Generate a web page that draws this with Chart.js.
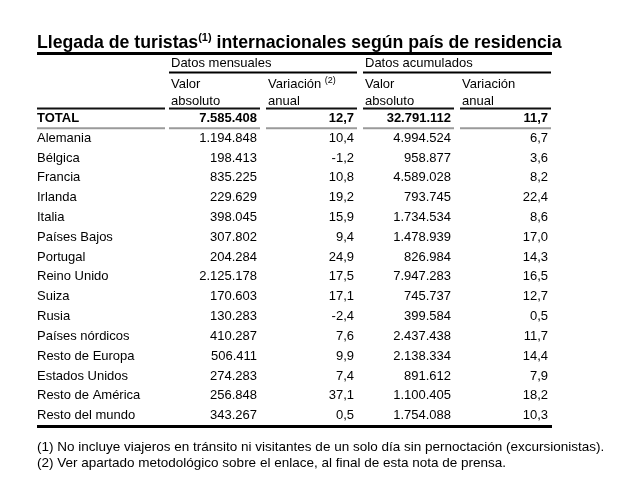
<!DOCTYPE html>
<html>
<head>
<meta charset="utf-8">
<script src="https://cdn.jsdelivr.net/npm/chart.js@4.4.1/dist/chart.umd.min.js"></script>
<style>
  body { margin: 0; background: #fff; font-family: "Liberation Sans", Arial, sans-serif; color: #000; }
  #wrap { position: relative; width: 620px; height: 484px; }
  canvas { position: absolute; left: 0; top: 0; }
  #titulo { position: absolute; left: 37px; top: 33px; font-size: 17.7px; line-height: 18px; font-weight: bold; white-space: nowrap; }
  #titulo sup { font-size: 11px; line-height: 0; vertical-align: 7px; }
  #notas { position: absolute; left: 37px; top: 439px; font-size: 13.5px; line-height: 15.5px; white-space: nowrap; }
</style>
</head>
<body>
<div id="wrap">
  <canvas id="tabla" width="620" height="484"></canvas>
  <div id="titulo">Llegada de turistas<sup>(1)</sup> internacionales según país de residencia</div>
  <div id="notas">
    (1) No incluye viajeros en tránsito ni visitantes de un solo día sin pernoctación (excursionistas).<br>
    (2) Ver apartado metodológico sobre el enlace, al final de esta nota de prensa.
  </div>
</div>
<script>
// Datos
const filas = ['TOTAL', 'Alemania', 'Bélgica', 'Francia', 'Irlanda', 'Italia', 'Países Bajos', 'Portugal',
  'Reino Unido', 'Suiza', 'Rusia', 'Países nórdicos', 'Resto de Europa', 'Estados Unidos',
  'Resto de América', 'Resto del mundo'];
const valorMensual = [7585408, 1194848, 198413, 835225, 229629, 398045, 307802, 204284,
  2125178, 170603, 130283, 410287, 506411, 274283, 256848, 343267];
const variacionMensual = [12.7, 10.4, -1.2, 10.8, 19.2, 15.9, 9.4, 24.9,
  17.5, 17.1, -2.4, 7.6, 9.9, 7.4, 37.1, 0.5];
const valorAcumulado = [32791112, 4994524, 958877, 4589028, 793745, 1734534, 1478939, 826984,
  7947283, 745737, 399584, 2437438, 2138334, 891612, 1100405, 1754088];
const variacionAcumulada = [11.7, 6.7, 3.6, 8.2, 22.4, 8.6, 17.0, 14.3,
  16.5, 12.7, 0.5, 11.7, 14.4, 7.9, 18.2, 10.3];

const columnas = ['valorMensual', 'variacionMensual', 'valorAcumulado', 'variacionAcumulada'];
const cabeceras = [['Valor', 'absoluto'], ['Variación', 'anual'], ['Valor', 'absoluto'], ['Variación', 'anual']];
const grupos = ['Datos mensuales', 'Datos acumulados'];

const FUENTE = '"Liberation Sans", Arial, sans-serif';

// Formatos
function miles(n) {
  return String(n).replace(/\B(?=(\d{3})+(?!\d))/g, '.');
}
function decimal(n) {
  return n.toFixed(1).replace('.', ',');
}

function serie(col, valores, formato) {
  return {
    label: col,
    data: filas.map((f, i) => ({ x: col, y: f, v: valores[i] })),
    formato: formato,
    showLine: false,
    pointRadius: 0,
    pointHoverRadius: 0
  };
}

// Dibuja celdas, cabeceras y lineas
const tablaPlugin = {
  id: 'tabla',
  afterDatasetsDraw(chart) {
    const ctx = chart.ctx;
    const area = chart.chartArea;
    const x = chart.scales.x;
    const y = chart.scales.y;
    const anchoCol = x.width / columnas.length;
    const altoFila = y.height / filas.length;
    const izq = chart.options.layout.padding.left;

    ctx.save();
    ctx.fillStyle = '#000';
    ctx.textBaseline = 'middle';

    // celdas
    chart.data.datasets.forEach((ds, c) => {
      const meta = chart.getDatasetMeta(c);
      meta.data.forEach((pt, i) => {
        ctx.font = (i === 0 ? 'bold ' : '') + '13px ' + FUENTE;
        ctx.textAlign = 'right';
        ctx.fillText(ds.formato(ds.data[i].v), pt.x + anchoCol / 2 - 5, pt.y);
      });
    });

    // cabeceras de columna
    ctx.textAlign = 'left';
    cabeceras.forEach((cab, c) => {
      const x0 = x.getPixelForValue(c) - anchoCol / 2 + 6;
      ctx.font = '13px ' + FUENTE;
      ctx.fillText(cab[0], x0, area.top - 24);
      ctx.fillText(cab[1], x0, area.top - 7);
      if (c === 1) {
        const w = ctx.measureText(cab[0] + ' ').width;
        ctx.font = '9px ' + FUENTE;
        ctx.fillText('(2)', x0 + w, area.top - 28);
      }
    });

    // grupos
    ctx.font = '13px ' + FUENTE;
    ctx.strokeStyle = '#000';
    ctx.lineWidth = 2;
    grupos.forEach((g, k) => {
      const x0 = x.getPixelForValue(k * 2) - anchoCol / 2;
      const x1 = x.getPixelForValue(k * 2 + 1) + anchoCol / 2;
      ctx.fillText(g, x0 + 6, area.top - 45);
      ctx.beginPath();
      ctx.moveTo(x0 + 4, area.top - 36);
      ctx.lineTo(x1 - 2, area.top - 36);
      ctx.stroke();
    });

    // lineas segmentadas
    function segmentos(yy, color, grosor) {
      ctx.strokeStyle = color;
      ctx.lineWidth = grosor;
      ctx.beginPath();
      ctx.moveTo(izq, yy);
      ctx.lineTo(area.left, yy);
      columnas.forEach((col, c) => {
        const cx = x.getPixelForValue(c);
        ctx.moveTo(cx - anchoCol / 2 + 4, yy);
        ctx.lineTo(cx + anchoCol / 2 - 2, yy);
      });
      ctx.stroke();
    }
    segmentos(area.top, '#111', 2);
    segmentos(area.top + altoFila, '#9a9a9a', 2);

    // linea del titulo y linea final
    ctx.strokeStyle = '#000';
    ctx.lineWidth = 3;
    ctx.beginPath();
    ctx.moveTo(izq, area.top - 55);
    ctx.lineTo(area.right - 1, area.top - 55);
    ctx.moveTo(izq, area.bottom + 1);
    ctx.lineTo(area.right - 1, area.bottom + 1);
    ctx.stroke();

    ctx.restore();
  }
};

new Chart(document.getElementById('tabla'), {
  type: 'line',
  data: {
    datasets: [
      serie(columnas[0], valorMensual, miles),
      serie(columnas[1], variacionMensual, decimal),
      serie(columnas[2], valorAcumulado, miles),
      serie(columnas[3], variacionAcumulada, decimal)
    ]
  },
  options: {
    responsive: false,
    animation: false,
    events: [],
    layout: { padding: { left: 37, right: 67, top: 108.5, bottom: 58.5 } },
    plugins: {
      legend: { display: false },
      title: { display: false },
      tooltip: { enabled: false }
    },
    scales: {
      x: {
        type: 'category',
        labels: columnas,
        offset: true,
        display: false
      },
      y: {
        type: 'category',
        labels: filas,
        offset: true,
        position: 'left',
        grid: { display: false },
        border: { display: false },
        afterFit: (s) => { s.width = 128; },
        ticks: {
          crossAlign: 'far',
          padding: 0,
          color: '#000',
          autoSkip: false,
          font: (c) => ({ family: FUENTE, size: 13, weight: c.index === 0 ? 'bold' : 'normal' })
        }
      }
    }
  },
  plugins: [tablaPlugin]
});
</script>
</body>
</html>
